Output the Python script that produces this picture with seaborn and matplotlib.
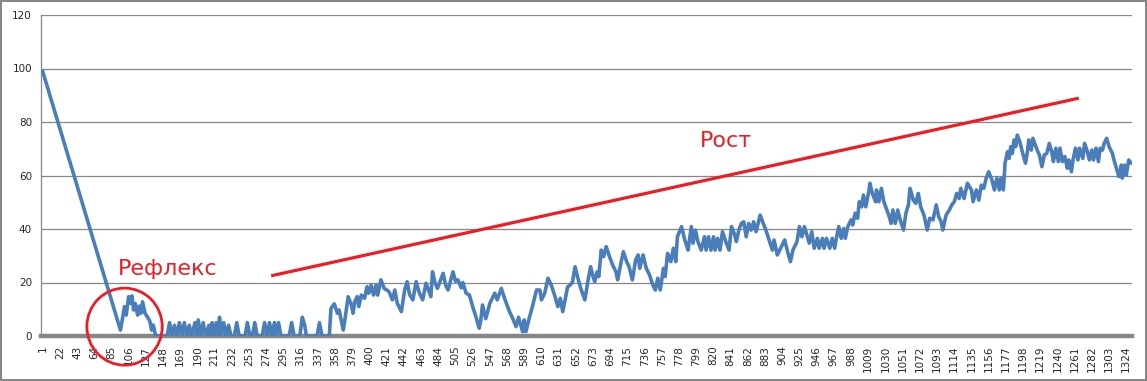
import pandas as pd
import matplotlib.pyplot as plt
import seaborn as sns
from matplotlib.patches import Ellipse

# Series (category number -> value), split by stretch
fall_x = [1, 96]
fall_y = [99, 2.2]

reflex_x = [101, 103, 106, 108, 110, 112, 114, 117, 119, 121, 123, 126, 130, 132, 134, 136, 139]
reflex_y = [11, 7.8, 14.7, 12.2, 15, 9.7, 12.2, 7.8, 11.2, 8.5, 12.8, 8.5, 6.6, 5.4, 2.2, 4.1, 0]

flat_x = [153, 156, 159, 162, 165, 168, 171, 174, 177, 180,
          183, 187, 189, 191, 194, 197, 200, 204, 206, 208,
          210, 213, 215, 217, 219, 222, 225, 228, 231, 235,
          238, 241, 248, 251, 254, 257, 260, 263, 269, 272,
          275, 278, 281, 284, 286, 289, 292, 302, 305, 308,
          315, 318, 321, 323, 336, 339, 342, 351]
flat_y = [0, 5, 0, 4, 0, 5, 0, 5, 0, 4,
          0, 5, 0, 6, 0, 5, 0, 4, 0, 5,
          0, 5, 0, 7, 0, 5, 0, 4, 0, 0,
          5, 0, 0, 5, 0, 0, 5, 0, 0, 5,
          0, 5, 0, 5, 0, 5, 0, 0, 5, 0,
          0, 7, 4, 0, 0, 5, 0, 0]

climb1_x = [353, 357, 361, 363, 368, 370, 374, 378, 380, 382,
            385, 387, 390, 394, 397, 399, 402, 405, 408, 410,
            414, 418, 421, 424, 428, 431, 434, 439, 443, 446,
            449, 453, 457, 461, 465, 469, 475, 477, 480, 483,
            490, 493, 496, 502, 505, 508, 512, 514, 518, 522,
            526, 530, 534, 536, 538, 542, 547, 549, 553, 556,
            561, 565, 571, 575, 579, 582, 587, 589, 591, 595,
            599, 604]
climb1_y = [10.3, 12, 8.5, 9.7, 2.2, 6, 14.7, 11.6, 8.5, 12.8,
            14.7, 11, 15.3, 14.1, 18.4, 16, 19, 15.3, 19, 15.3,
            21, 17.8, 17.2, 16.5, 13.5, 17.2, 12.2, 9.1, 17.2, 20.3,
            15.5, 13.5, 20.3, 16, 13.5, 19.7, 14.7, 24, 20, 17.8,
            23.4, 19, 17.2, 24, 20.5, 21, 18, 20, 16, 15.3,
            11, 7.2, 2.9, 6, 11.6, 6.5, 12.2, 13.5, 16, 13.5,
            17.8, 14, 9.1, 6.5, 3.5, 7, 1.6, 6, 1.6, 6.6,
            11, 17.2]

climb2_x = [608, 610, 614, 618, 622, 626, 630, 633, 636, 640,
            642, 645, 648, 651, 654, 658, 663, 667, 670, 673,
            675, 678, 680, 683, 686, 689, 693, 697, 701, 703,
            707, 710, 714, 717, 721, 725, 728, 730, 734, 738,
            742, 746, 749, 752, 755, 759, 761, 764, 768, 771,
            774, 776, 781, 785, 789, 793, 795, 798, 801, 805,
            809, 811, 814, 817, 820, 822, 825, 828, 831, 835,
            839, 842, 846, 848, 851, 854, 857, 860, 863, 866,
            869, 872, 875]
climb2_y = [17.2, 13.5, 16, 21.6, 19, 15.3, 11, 14.1, 9.1, 15.3,
            18.4, 19, 20.3, 25.9, 22.2, 17.8, 13.5, 21, 25.9, 22.2,
            20.3, 24, 22.2, 32.1, 29.7, 33.4, 29.7, 26.5, 24, 21,
            27.2, 31.5, 27.8, 25.9, 21, 28.4, 30.3, 25.3, 30.3, 25.3,
            22.8, 19, 17.2, 21.6, 17.2, 25.3, 22.2, 30.9, 27.8, 32.8,
            27.8, 37.1, 40.9, 35.9, 32.1, 40.9, 34.7, 39.6, 35.3, 32.1,
            37.1, 32.1, 37.1, 32.1, 37.1, 32.1, 36.5, 32.1, 39, 35.3,
            32.1, 40.9, 37.8, 35.3, 39.6, 42.1, 42.7, 37.1, 42.1, 39.6,
            42.7, 39, 42.7]

climb3_x = [877, 880, 884, 888, 892, 894, 898, 903, 907, 911,
            914, 917, 920, 922, 925, 928, 931, 934, 937, 940,
            943, 947, 949, 953, 955, 958, 962, 965, 968, 970,
            973, 976, 979, 981, 984, 988, 990, 993, 996, 998,
            1001, 1003, 1006, 1010, 1011, 1014, 1018, 1019, 1022, 1025,
            1028, 1031, 1034, 1037, 1039, 1042, 1045, 1048, 1052, 1055,
            1058, 1060, 1064, 1067, 1070, 1073, 1077, 1081, 1084, 1088,
            1092, 1095, 1098, 1100, 1104, 1108, 1111, 1114, 1117, 1120,
            1122, 1126, 1130, 1135, 1137, 1141, 1144, 1147, 1150, 1153,
            1156]
climb3_y = [45.2, 42.7, 39.6, 35.9, 32.1, 35.9, 30.3, 33.4, 35.9, 30.9,
            27.8, 32.1, 34, 35.3, 40.9, 37.1, 40.9, 37.8, 34.7, 39,
            32.8, 36.5, 32.8, 36.5, 32.8, 36.5, 32.8, 36.5, 32.8, 36.5,
            40.9, 36.5, 40.2, 36.5, 40.9, 43.4, 41.5, 45.9, 44, 50.2,
            48.3, 52.7, 48.3, 54.6, 57.1, 53.3, 50.2, 54.6, 50.2, 55.2,
            50.2, 47.7, 45.2, 42.1, 47.1, 42.1, 47.1, 43.4, 39.6, 45.9,
            49, 55.2, 50.8, 49.6, 53.3, 48.3, 45.2, 39.6, 44, 43.4,
            49, 44.6, 42.7, 39.6, 45.2, 47.1, 49, 50.2, 53.3, 51.4,
            55.2, 51.4, 57.1, 54.6, 50.2, 54.6, 50.8, 56.4, 55.2, 59,
            61.4]

climb4_x = [1160, 1163, 1166, 1169, 1171, 1174, 1176, 1179, 1181, 1183,
            1185, 1187, 1189, 1191, 1194, 1197, 1201, 1203, 1205, 1208,
            1210, 1213, 1216, 1218, 1221, 1224, 1227, 1230, 1233, 1235,
            1238, 1241, 1243, 1246, 1249, 1252, 1254, 1257, 1259, 1262,
            1265, 1267, 1271, 1273, 1276, 1279, 1282, 1284, 1287, 1290,
            1292, 1295, 1297, 1300, 1303, 1307, 1309, 1312, 1315, 1318,
            1319, 1322, 1324, 1327, 1330]
climb4_y = [58.3, 54.6, 59, 54.6, 59, 54.6, 64.6, 68.9, 66.4, 70.8,
            68.3, 73.3, 70.8, 75.1, 72.6, 68.9, 64.6, 68.3, 73.3, 69.5,
            73.9, 71.4, 68.9, 67.7, 63.3, 67.7, 68.3, 72, 68.9, 65.2,
            70.2, 65.2, 70.2, 65.2, 67.1, 62.7, 65.8, 61.4, 65.8, 70.2,
            65.8, 70.2, 66.4, 72, 69.5, 65.8, 69.5, 65.8, 70.2, 65.2,
            70.2, 69.5, 72, 73.9, 70.8, 68.3, 65.8, 62.7, 59.6, 63.9,
            59, 63.9, 60.2, 65.8, 64.6]

x_ticks = list(range(1, 1325, 21))
y_ticks = [0, 20, 40, 60, 80, 100, 120]

# annotations
trend_x = [280, 1266]
trend_y = [22.5, 88.9]
reflex_label = "Рефлекс"
growth_label = "Рост"

df = pd.DataFrame({
    "step": fall_x + reflex_x + flat_x + climb1_x + climb2_x + climb3_x + climb4_x,
    "value": fall_y + reflex_y + flat_y + climb1_y + climb2_y + climb3_y + climb4_y,
})

sns.set_style("white")
plt.rcParams["font.family"] = ["DejaVu Sans"]

grid_c = "#878787"
blue = "#4a7ebb"
red = "#ee1c25"

fig = plt.figure(figsize=(11.47, 3.81), dpi=100)
fig.patch.set_edgecolor(grid_c)
fig.patch.set_linewidth(1.5)
ax = fig.add_axes([41 / 1147, 1 - 336 / 381, 1091 / 1147, 321 / 381])

sns.lineplot(data=df, x="step", y="value", color=blue, linewidth=2.6,
             estimator=None, sort=False, ax=ax, zorder=3)

ax.set_xlim(-1, 1331)
ax.set_ylim(0, 120)
ax.set_xticks(x_ticks)
ax.set_xticklabels([str(t) for t in x_ticks], rotation=90)
ax.set_yticks(y_ticks)
ax.set_xlabel("")
ax.set_ylabel("")
ax.grid(axis="y", color=grid_c, linewidth=0.9)
ax.grid(axis="x", visible=False)
ax.set_axisbelow(True)

for side in ["top", "right"]:
    ax.spines[side].set_visible(False)
ax.spines["left"].set_color(grid_c)
ax.spines["left"].set_linewidth(0.9)
ax.spines["bottom"].set_color(grid_c)
ax.spines["bottom"].set_linewidth(3.2)

ax.tick_params(axis="y", length=3.5, width=0.9, color=grid_c, labelsize=7.5, pad=3)
ax.tick_params(axis="x", length=3, width=0.9, color=grid_c, labelsize=7.5, pad=4)

# red annotations
ax.plot(trend_x, trend_y, color=red, linewidth=2.3, solid_capstyle="butt", zorder=4)
ax.add_patch(Ellipse((101, 3.5), 92, 28.8, fill=False, edgecolor=red,
                     linewidth=2.0, clip_on=False, zorder=4))
ax.text(93, 22.8, reflex_label, color=red, fontsize=16, va="baseline", ha="left")
ax.text(803, 70.5, growth_label, color=red, fontsize=16, va="baseline", ha="left")

fig.savefig("out.png", dpi=100, edgecolor=fig.get_edgecolor())
